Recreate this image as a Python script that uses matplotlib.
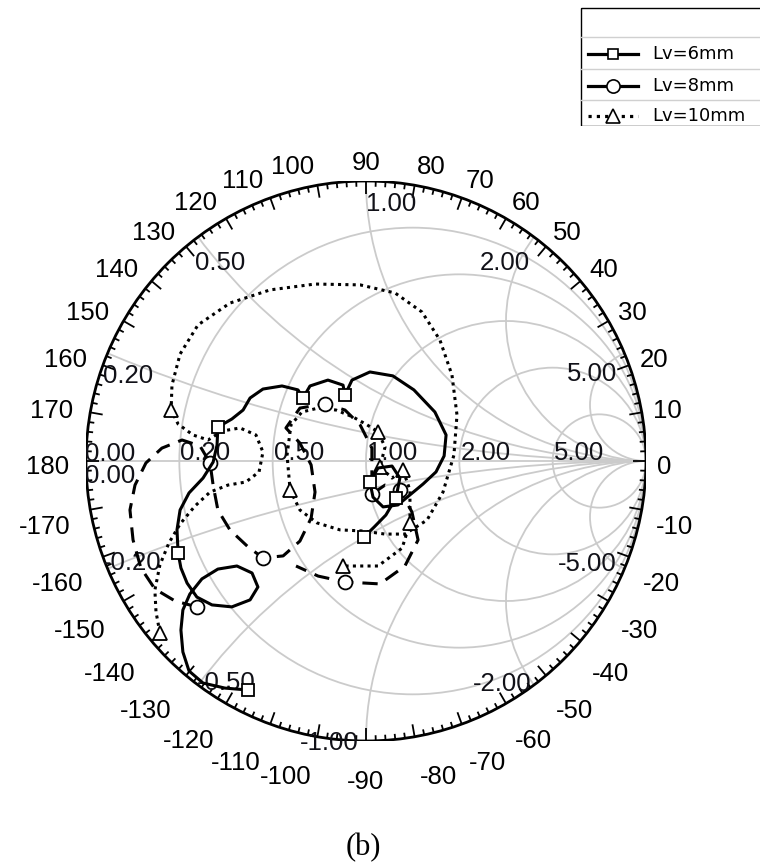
import numpy as np
import matplotlib
matplotlib.use('Agg')
import matplotlib.pyplot as plt
from matplotlib.patches import Circle, Rectangle

# ---------------- data (reflection coefficient, real / imag) ----------------
lv6_re = [-0.421,-0.504,-0.582,-0.632,-0.654,-0.661,-0.654,-0.629,-0.586,-0.529,-0.461,-0.407,-0.386,-0.414,-0.479,-0.550,-0.604,-0.639,-0.661,-0.671,-0.675,-0.664,-0.632,-0.582,-0.546,-0.532,-0.529,-0.479,-0.439,-0.414,-0.368,-0.300,-0.243,-0.225,-0.200,-0.136,-0.082,-0.075,-0.050,0.014,0.096,0.171,0.246,0.286,0.279,0.250,0.204,0.157,0.114,0.061,0.025,0.014,0.043,0.093,0.121,0.107,0.071,0.029,-0.007]
lv6_im = [-0.818,-0.811,-0.793,-0.750,-0.682,-0.604,-0.532,-0.475,-0.421,-0.386,-0.375,-0.400,-0.450,-0.496,-0.521,-0.514,-0.486,-0.436,-0.382,-0.329,-0.246,-0.175,-0.114,-0.061,-0.004,0.057,0.121,0.150,0.182,0.225,0.257,0.268,0.254,0.225,0.268,0.289,0.271,0.236,0.289,0.318,0.304,0.254,0.175,0.093,0.018,-0.039,-0.082,-0.121,-0.157,-0.164,-0.129,-0.075,-0.025,-0.018,-0.061,-0.132,-0.193,-0.236,-0.271]
lv6_marks = [0, 19, 26, 33, 37, 51, 55, 58]

lv8_re = [-0.604,-0.682,-0.754,-0.804,-0.832,-0.843,-0.825,-0.786,-0.729,-0.657,-0.593,-0.557,-0.546,-0.529,-0.486,-0.421,-0.368,-0.296,-0.236,-0.196,-0.182,-0.196,-0.236,-0.286,-0.236,-0.146,-0.075,-0.021,0.021,0.021,0.068,0.121,0.164,0.186,0.139,0.050,-0.075,-0.171,-0.250]
lv8_im = [-0.521,-0.500,-0.457,-0.382,-0.282,-0.175,-0.086,-0.007,0.046,0.075,0.054,-0.007,-0.086,-0.175,-0.246,-0.307,-0.346,-0.339,-0.286,-0.204,-0.111,-0.014,0.064,0.118,0.189,0.204,0.182,0.129,0.046,-0.118,-0.086,-0.104,-0.182,-0.282,-0.375,-0.439,-0.432,-0.411,-0.375]
lv8_marks = [0, 11, 16, 25, 29, 31, 36]

lv10_re = [-0.736,-0.750,-0.754,-0.736,-0.704,-0.664,-0.611,-0.557,-0.493,-0.429,-0.382,-0.368,-0.393,-0.450,-0.514,-0.564,-0.618,-0.671,-0.696,-0.693,-0.664,-0.600,-0.486,-0.343,-0.182,-0.021,0.104,0.200,0.264,0.307,0.325,0.314,0.275,0.218,0.139,0.068,-0.011,-0.093,-0.175,-0.236,-0.271,-0.282,-0.268,-0.229,-0.171,-0.107,-0.046,0.004,0.043,0.068,0.050,0.093,0.132,0.157,0.157,0.129,0.043,-0.082]
lv10_im = [-0.614,-0.539,-0.461,-0.371,-0.293,-0.225,-0.161,-0.111,-0.086,-0.075,-0.039,0.032,0.093,0.118,0.107,0.075,0.093,0.132,0.182,0.271,0.382,0.486,0.564,0.611,0.632,0.629,0.600,0.532,0.432,0.307,0.164,0.021,-0.111,-0.211,-0.261,-0.261,-0.250,-0.246,-0.221,-0.175,-0.104,0.021,0.129,0.175,0.189,0.182,0.157,0.129,0.104,0.050,-0.021,-0.061,-0.032,-0.104,-0.221,-0.311,-0.375,-0.375]
lv10_marks = [0, 18, 40, 48, 50, 52, 54, 57]

series_names = ["Lv=6mm", "Lv=8mm", "Lv=10mm"]
r_values = [0.2, 0.5, 1.0, 2.0, 5.0]
x_values = [0.2, 0.5, 1.0, 2.0, 5.0]
r_labels = ["0.20", "0.50", "1.00", "2.00", "5.00"]
x_pos_labels = ["0.20", "0.50", "1.00", "2.00", "5.00"]
x_neg_labels = ["-0.20", "-0.50", "-1.00", "-2.00", "-5.00"]
angle_values = list(range(-170, 190, 10))

# ---------------- figure ----------------
W, H = 760, 867
fig = plt.figure(figsize=(W / 100, H / 100), dpi=100)
plt.rcParams['font.family'] = ['Liberation Sans', 'DejaVu Sans']
PT = 0.72  # points per pixel at dpi 100

R_PX = 280.0
cx, cy = 366.0, 461.0
ax = fig.add_axes([(cx - R_PX) / W, (H - cy - R_PX) / H, 2 * R_PX / W, 2 * R_PX / H])
ax.set_xlim(-1, 1)
ax.set_ylim(-1, 1)
ax.set_aspect('auto')
ax.axis('off')

grid_c = '#cbcbcb'
grid_lw = 1.3
unit = Circle((0, 0), 1.0, transform=ax.transData, facecolor='none', edgecolor='none')
ax.add_patch(unit)

for r in r_values:
    c = Circle((r / (1 + r), 0), 1 / (1 + r), fill=False, edgecolor=grid_c, lw=grid_lw, zorder=1)
    ax.add_patch(c)
    c.set_clip_path(unit)
for x in x_values:
    for s in (1, -1):
        c = Circle((1, s / x), 1 / x, fill=False, edgecolor=grid_c, lw=grid_lw, zorder=1)
        ax.add_patch(c)
        c.set_clip_path(unit)
ax.plot([-1, 1], [0, 0], color=grid_c, lw=grid_lw, zorder=1)

# outer circle
ax.add_patch(Circle((0, 0), 1.0, fill=False, edgecolor='black', lw=2.0, zorder=3))

# tick marks
for d in range(0, 360, 2):
    a = np.deg2rad(d)
    L = 0.045 if d % 10 == 0 else 0.02
    ax.plot([np.cos(a), (1 - L) * np.cos(a)], [np.sin(a), (1 - L) * np.sin(a)],
            color='black', lw=1.3, zorder=3, solid_capstyle='butt')

# angle labels
fs_out = 18.5
em = fs_out / PT
cap = 0.716 * em
for ang in angle_values:
    a = np.deg2rad(ang)
    c_, s_ = np.cos(a), np.sin(a)
    txt = str(ang)
    w = 0.556 * em * sum(1 for ch in txt if ch.isdigit()) + (0.584 * em if ang < 0 else 0)
    hs = 0 if abs(c_) < 0.02 else np.sign(c_)
    dx = hs * w / 2 + (-6 * abs(c_) if hs < 0 else 0)
    if s_ > 0.05:
        dy = cap / 2 * s_
    else:
        dy = -(cap / 2 * abs(s_) + 4 + 14 * min(1.0, 3 * abs(s_)))
    ax.annotate(txt, xy=(1.04 * c_, 1.04 * s_), xytext=(dx * PT, (dy - cap / 2) * PT),
                textcoords='offset points', ha='center', va='baseline',
                fontsize=fs_out, color='black', annotation_clip=False)

# resistance labels on real axis  (offsets in pixels: right, down to baseline)
fs_in = 18.5
lab_c = '#111118'


def put(label, xy, ha, dxp, dyp):
    ax.annotate(label, xy=xy, xytext=(dxp * PT, -dyp * PT), textcoords='offset points',
                ha=ha, va='baseline', fontsize=fs_in, color=lab_c, zorder=4,
                annotation_clip=False)


for r, lab in zip(r_values, r_labels):
    put(lab, ((r - 1) / (r + 1), 0), 'left', 1, -1)
put("0.00", (-1, 0), 'left', -1, 0)
put("0.00", (-1, 0), 'left', -1, 22)

# reactance labels
pos_off = [('left', -4.5, 30), ('left', -3, 33), ('left', 0, 30), ('right', -4, 33), ('right', -7.5, 28)]
neg_off = [('left', -4.5, 1), ('left', -1, 5), ('right', -7, 9), ('right', -2, 6), ('right', -7.5, 2)]
for x, lp, ln, sp, sn in zip(x_values, x_pos_labels, x_neg_labels, pos_off, neg_off):
    z = 1j * x
    g = (z - 1) / (z + 1)
    put(lp, (g.real, g.imag), sp[0], sp[1], sp[2])
    put(ln, (g.real, -g.imag), sn[0], sn[1], sn[2])

# ---------------- data curves ----------------
sty6 = dict(color='black', lw=2.2, ls='-', marker='s', ms=8, mfc='white', mec='black', mew=1.3)
sty8 = dict(color='black', lw=2.2, ls=(0, (5, 3)), marker='o', ms=10, mfc='white', mec='black', mew=1.3)
sty10 = dict(color='black', lw=2.2, ls=(0, (1, 1.4)), marker='^', ms=10, mfc='white', mec='black', mew=1.3)

ax.plot(lv10_re, lv10_im, markevery=lv10_marks, zorder=5, **sty10)
ax.plot(lv8_re, lv8_im, markevery=lv8_marks, zorder=6, **sty8)
ax.plot(lv6_re, lv6_im, markevery=lv6_marks, zorder=7, **sty6)

# ---------------- legend box ----------------
lx0, ly0, lw_, lh_ = 580, 7, 190, 119
lax = fig.add_axes([lx0 / W, 1 - (ly0 + lh_) / H, lw_ / W, lh_ / H])
lax.set_xlim(0, lw_)
lax.set_ylim(lh_, 0)
lax.axis('off')
lax.add_patch(Rectangle((0.5, 0.5), 250, lh_ - 1, fill=False, edgecolor='black', lw=1.0))
for yy in (30, 62, 93):
    lax.plot([1, lw_], [yy, yy], color='#d0d0d0', lw=1.0)
rows_y = [47, 79, 109]
leg_ls = ['-', '-', (0, (1, 1.6))]
leg_ms = [7.5, 9.5, 9.5]
for name, yy, sty, ls, ms in zip(series_names, rows_y, (sty6, sty8, sty10), leg_ls, leg_ms):
    lax.plot([8, 58], [yy, yy], color='black', lw=2.3, ls=ls)
    lax.plot([33], [yy], ls='none', marker=sty['marker'], ms=ms,
             mfc='white', mec='black', mew=1.2)
    lax.text(72, yy, name, ha='left', va='center', fontsize=13, color='black',
             family=['DejaVu Sans'])

# caption
fig.text(363 / W, 1 - 848 / H, "(b)", ha='center', va='center', fontsize=22,
         family=['Liberation Serif', 'DejaVu Serif'])

fig.savefig('out.png', dpi=100)
